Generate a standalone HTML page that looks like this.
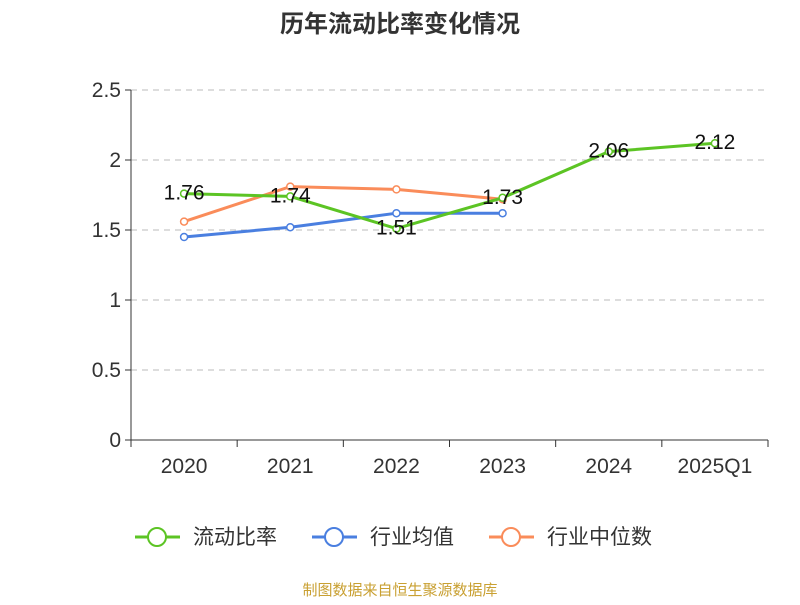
<!DOCTYPE html>
<html><head><meta charset="utf-8"><style>
body{margin:0;background:#fff;}
svg text{font-family:"Liberation Sans","Noto Sans CJK SC",sans-serif;}
</style></head><body>
<svg width="800" height="600" id="c">
<text x="400" y="32" text-anchor="middle" font-size="24" font-weight="bold" fill="#333">历年流动比率变化情况</text>
<text x="400" y="595" text-anchor="middle" font-size="15" fill="#c9a032">制图数据来自恒生聚源数据库</text>
</svg>
<script>
const categories=["2020","2021","2022","2023","2024","2025Q1"];
const yTicks=[0,0.5,1,1.5,2,2.5];
const tickLabels=["0","0.5","1","1.5","2","2.5"];
const current=[1.76,1.74,1.51,1.73,2.06,2.12];
const industryAvg=[1.45,1.52,1.62,1.62];
const industryMedian=[1.56,1.81,1.79,1.72];
const svg=document.getElementById('c');const NS='http://www.w3.org/2000/svg';
const x0=131,x1=768,y0=440,yTop=90;
const bw=(x1-x0)/categories.length;
const xs=i=>x0+bw*(i+0.5);
const ys=v=>y0-(v/2.5)*(y0-yTop);
function el(t,a,p){const e=document.createElementNS(NS,t);for(const k in a)e.setAttribute(k,a[k]);(p||svg).appendChild(e);return e;}
yTicks.forEach((v,i)=>{
 if(v>0){const g=el('line',{x1:x0,x2:x1,y1:ys(v),y2:ys(v),stroke:'#bbb','stroke-dasharray':'6,5'});
 
 }
 const tk=el('line',{x1:x0-6,x2:x0,y1:ys(v),y2:ys(v),stroke:'#333'});
 
 
 const t=el('text',{x:x0-10,y:ys(v)+7,'text-anchor':'end','font-size':21,fill:'#333'});t.textContent=tickLabels[i];
 
 
});
const ya=el('line',{x1:x0,x2:x0,y1:yTop,y2:y0,stroke:'#333'});


const xa=el('line',{x1:x0,x2:x1,y1:y0,y2:y0,stroke:'#333'});


for(let i=0;i<=categories.length;i++){const l=el('line',{x1:x0+bw*i,x2:x0+bw*i,y1:y0,y2:y0+7,stroke:'#333'});
 
 }
categories.forEach((c,i)=>{const t=el('text',{x:xs(i),y:y0+33,'text-anchor':'middle','font-size':21,fill:'#333'});t.textContent=c;
 
 });
function series(data,color,name,labels){
 const p=el('polyline',{points:data.map((v,i)=>xs(i)+','+ys(v)).join(' '),fill:'none',stroke:color,'stroke-width':3});
 
 
 data.forEach((v,i)=>{const c=el('circle',{cx:xs(i),cy:ys(v),r:3.5,fill:'#fff',stroke:color,'stroke-width':1.5});
  
  });
 if(labels)data.forEach((v,i)=>{const t=el('text',{x:xs(i),y:ys(v)+6,'text-anchor':'middle','font-size':21,fill:'#111'});t.textContent=v.toFixed(2);
  
  });
}
series(industryAvg,'#4a7fe0','industry-average',false);
series(industryMedian,'#fa8c5a','industry-median',false);
series(current,'#5cc424','current-ratio',true);
[['流动比率','#5cc424',135],['行业均值','#4a7fe0',312],['行业中位数','#fa8c5a',489]].forEach(([n,c,x])=>{
 const g=el('g',{});
 
 
 el('line',{x1:x,x2:x+45,y1:537,y2:537,stroke:c,'stroke-width':3},g);
 el('circle',{cx:x+22,cy:537,r:9,fill:'#fff',stroke:c,'stroke-width':2},g);
 const t=el('text',{x:x+58,y:544,'font-size':21,fill:'#333'},g);t.textContent=n;
});
</script>
</body></html>
